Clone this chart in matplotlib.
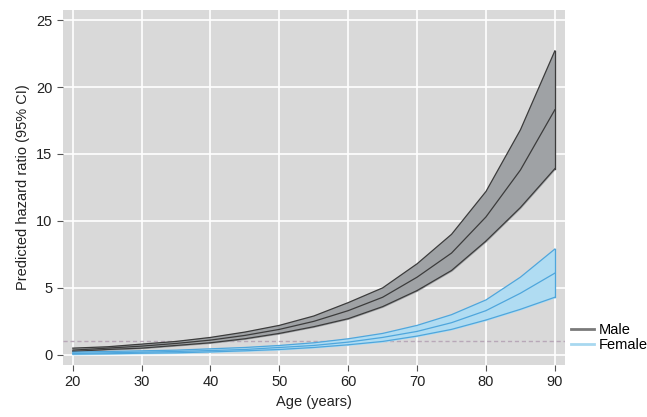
import numpy as np
import matplotlib.pyplot as plt

plt.rcParams['font.family'] = ['Liberation Sans', 'DejaVu Sans']

age = [20, 25, 30, 35, 40, 45, 50, 55, 60, 65, 70, 75, 80, 85, 90]

male_hr = [0.35, 0.5, 0.65, 0.85, 1.1, 1.45, 1.9, 2.5, 3.3, 4.3, 5.8, 7.6, 10.3, 13.8, 18.3]
male_lo = [0.25, 0.4, 0.5, 0.7, 0.9, 1.2, 1.6, 2.1, 2.7, 3.6, 4.8, 6.3, 8.5, 11.0, 13.9]
male_hi = [0.5, 0.6, 0.8, 1.0, 1.3, 1.7, 2.2, 2.9, 3.9, 5.0, 6.8, 9.0, 12.2, 16.8, 22.7]

female_hr = [0.1, 0.15, 0.2, 0.25, 0.32, 0.4, 0.55, 0.7, 0.95, 1.3, 1.75, 2.4, 3.3, 4.6, 6.1]
female_lo = [0.05, 0.08, 0.12, 0.15, 0.22, 0.3, 0.4, 0.55, 0.75, 1.0, 1.4, 1.9, 2.6, 3.4, 4.3]
female_hi = [0.2, 0.25, 0.3, 0.35, 0.45, 0.55, 0.7, 0.9, 1.2, 1.6, 2.2, 3.0, 4.1, 5.8, 7.9]

fig = plt.figure(figsize=(6.47, 4.17), dpi=100)
ax = fig.add_axes([0.097, 0.125, 0.776, 0.851])
ax.set_facecolor('#d9d9d9')

ax.axhline(1, color='#b8a8b8', linestyle=(0, (3, 2)), linewidth=1, zorder=1)

ax.fill_between(age, male_lo, male_hi, color='#9fa2a5', zorder=2)
ax.plot(age, male_lo, color='#3c3c3c', lw=0.9, zorder=3)
ax.plot(age, male_hi, color='#3c3c3c', lw=0.9, zorder=3)
ax.plot(age, male_hr, color='#3c3c3c', lw=0.9, zorder=3, label='Male')
ax.plot([age[-1], age[-1]], [male_lo[-1], male_hi[-1]], color='#3c3c3c', lw=0.9, zorder=3)

ax.fill_between(age, female_lo, female_hi, color='#b0dcf2', zorder=2)
ax.plot(age, female_lo, color='#4fa6dc', lw=0.9, zorder=3)
ax.plot(age, female_hi, color='#4fa6dc', lw=0.9, zorder=3)
ax.plot(age, female_hr, color='#4fa6dc', lw=0.9, zorder=3, label='Female')
ax.plot([age[-1], age[-1]], [female_lo[-1], female_hi[-1]], color='#4fa6dc', lw=0.9, zorder=3)

ax.set_xlim(18.55, 91.45)
ax.set_ylim(-0.75, 25.75)
ax.set_xticks([20, 30, 40, 50, 60, 70, 80, 90])
ax.set_yticks([0, 5, 10, 15, 20, 25])
ax.grid(color='white', linewidth=1.2)
ax.set_axisbelow(True)
for s in ax.spines.values():
    s.set_visible(False)
ax.tick_params(colors='#555555', labelcolor='#222222', labelsize=10.5, length=4)

ax.set_xlabel('Age (years)', fontsize=10.5, color='#222222')
ax.set_ylabel('Predicted hazard ratio (95% CI)', fontsize=10.5, color='#222222')

handles = [plt.Line2D([], [], color='#7a7a7a', lw=2),
           plt.Line2D([], [], color='#a8d8f0', lw=2)]
fig.legend(handles, ['Male', 'Female'], loc='lower left', bbox_to_anchor=(0.882, 0.155),
           frameon=False, fontsize=10.5, handlelength=1.6, handletextpad=0.3,
           labelspacing=0.1, borderaxespad=0, borderpad=0)

fig.savefig('out.png', dpi=100)
